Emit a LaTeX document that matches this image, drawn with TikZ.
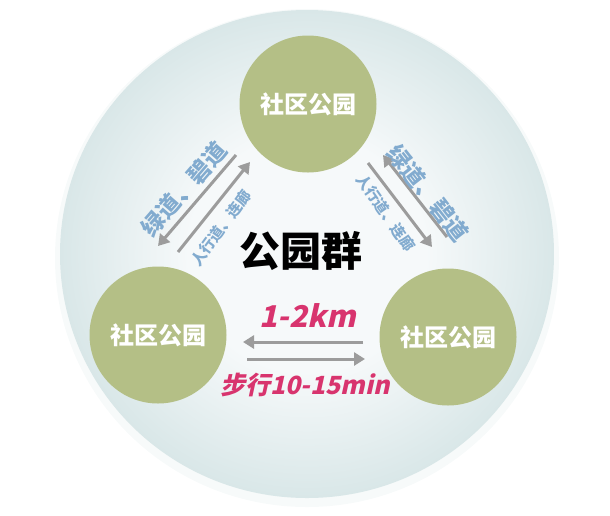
\documentclass[tikz,border=0pt]{standalone}
\usepackage{fontspec}
\setmainfont{Noto Sans CJK SC}
\newfontfamily\slantfont{Noto Sans CJK SC}[FakeSlant=0.22]
\usetikzlibrary{arrows.meta}
\usepackage{xcolor}
\definecolor{parkgreen}{HTML}{B4BF86}
\definecolor{waygray}{HTML}{9C9C9C}
\definecolor{wayblue}{HTML}{82ABCF}
\definecolor{walkpink}{HTML}{D8346E}
\definecolor{rimcolor}{HTML}{D9E7E8}
\definecolor{corecolor}{HTML}{F6F9FA}
\pgfdeclareradialshading{bubble}{\pgfpoint{0bp}{0bp}}{color(0bp)=(corecolor); color(12bp)=(corecolor); color(25bp)=(rimcolor); color(50bp)=(rimcolor)}

\begin{document}
\begin{tikzpicture}[
            x = 1pt, y = -1pt,
            > = {Triangle[length=11pt, width=13pt]},
            semithick
        ]

        \tikzstyle{park}=[
            circle,
            fill = parkgreen,
            minimum size = 137pt,
            inner sep = 0pt,
            text = white,
            font = \fontsize{24}{24}\selectfont\bfseries
        ]
        \tikzstyle{way}=[->, waygray, line width = 3pt]
        \tikzstyle{bigway}=[text = wayblue, font = \fontsize{23}{23}\selectfont\bfseries, inner sep = 0pt]
        \tikzstyle{smallway}=[text = wayblue, font = \fontsize{15}{15}\selectfont\bfseries, inner sep = 0pt]
        \tikzstyle{walk}=[text = walkpink, inner sep = 0pt]

        \useasboundingbox (0,0) rectangle (610,515);
        \fill[rimcolor!20] (307,258) ellipse [x radius=252, y radius=249];
        \shade[shading = bubble] (307,254) ellipse [x radius=247, y radius=244];

        \node[park] (toppark) at (308,104) {社区公园};
        \node[park] (leftpark) at (158,335) {社区公园};
        \node[park] (rightpark) at (448,337) {社区公园};
        \node[font = \fontsize{41}{41}\selectfont\bfseries] (cluster) at (301,251) {公园群};

        \coordinate (la1) at (236,155);
        \coordinate (la2) at (158,246);
        \coordinate (lb1) at (178,252);
        \coordinate (lb2) at (250,162);
        \coordinate (rc1) at (447,237);
        \coordinate (rc2) at (383,155);
        \coordinate (rd1) at (368,163);
        \coordinate (rd2) at (432,247);
        \coordinate (ba1) at (363,342);
        \coordinate (ba2) at (243,342);
        \coordinate (bb1) at (247,359);
        \coordinate (bb2) at (365,359);

        \path[way] (la1) edge (la2);
        \path[way] (lb1) edge (lb2);
        \path[way] (rc1) edge (rc2);
        \path[way] (rd1) edge (rd2);
        \path[way] (ba1) edge (ba2);
        \path[way] (bb1) edge (bb2);

        \node[bigway, rotate = 49] (leftgreen) at (184,189) {绿道、碧道};
        \node[smallway, rotate = 54] (leftwalk) at (221,228) {人行道、连廊};
        \node[bigway, rotate = -52] (rightgreen) at (428,193) {绿道、碧道};
        \node[smallway, rotate = -55] (rightwalk) at (386,213) {人行道、连廊};

        \node[walk, font = \fontsize{30}{30}\selectfont\slantfont\bfseries] (distance) at (308,316) {1-2km};
        \node[walk, font = \fontsize{25}{25}\selectfont\slantfont\bfseries] (walktime) at (305,385) {步行10-15min};
    \end{tikzpicture}
\end{document}
